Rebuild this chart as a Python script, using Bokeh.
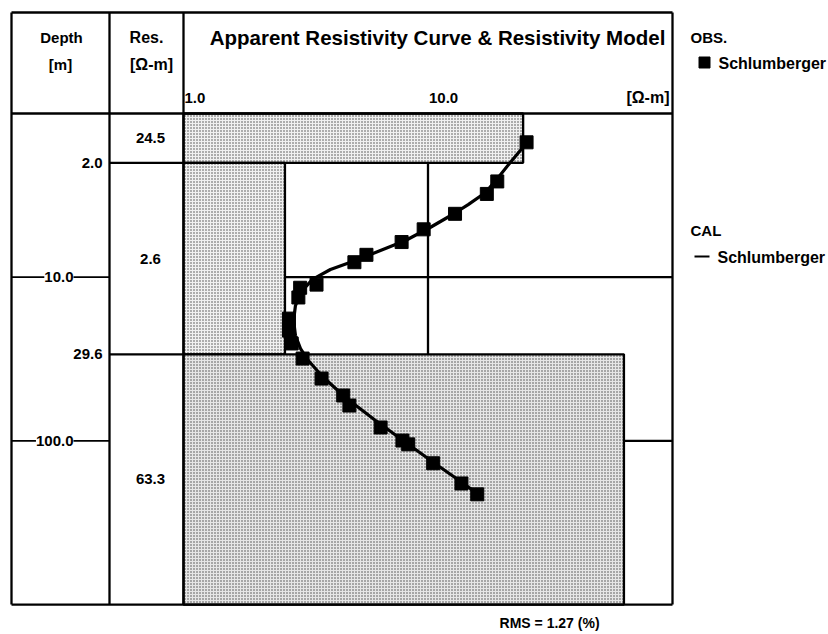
from bokeh.plotting import figure
from bokeh.models import Range1d, ColumnDataSource, LabelSet
from bokeh.core.properties import value
from bokeh.embed import file_html
from bokeh.resources import INLINE

# ---------------- data ----------------
x_lim = [1.0, 100.0]             # resistivity axis (ohm-m)
depth_lim = [1.0, 1000.0]        # depth axis (m)
x_ticks = [1.0, 10.0]
x_tick_labels = ["1.0", "10.0"]
depth_grid = [10.0, 100.0]
depth_grid_labels = ["10.0", "100.0"]

layer_res = [24.5, 2.6, 63.3]
layer_res_labels = ["24.5", "2.6", "63.3"]
layer_bounds = [2.0, 29.6]
layer_bound_labels = ["2.0", "29.6"]

obs_ab2 = [1.5, 2.6, 3.1, 4.1, 5.1, 6.1, 7.3, 8.1, 11.1, 11.6, 13.3, 17.9,
           21.2, 25.4, 31.4, 41.6, 52.8, 60.8, 82.8, 99.5, 105, 137, 182, 212]
obs_rho = [25.3, 19.2, 17.4, 12.9, 9.6, 7.8, 5.6, 5.0, 3.5, 3.0, 2.95, 2.7,
           2.7, 2.77, 3.07, 3.67, 4.5, 4.77, 6.4, 7.86, 8.3, 10.5, 13.7, 15.9]

cal_ab2 = [1.46, 1.99, 2.5, 3.04, 3.6, 4.14, 4.97, 5.97, 6.87, 7.91, 8.97,
           10.3, 12.2, 14.9, 18.4, 22.7, 27.3, 32.3, 40.4, 54.3, 75, 102, 135, 177, 210]
cal_rho = [25.8, 21.7, 19.2, 17.2, 14.6, 12.6, 10.2, 8.09, 6.39, 5.05, 3.99,
           3.37, 3.04, 2.87, 2.82, 2.87, 3.01, 3.24, 3.70, 4.60, 6.10, 8.09, 10.5, 13.6, 15.9]

rms_value = 1.27

# ---------------- geometry (page pixels) ----------------
W, H, M = 828, 634, 0
PX_X1, PX_Y1 = 183.0, 113.0     # page position of (1 ohm-m, 1 m)
DX, DY = 244.5, 163.7           # pixels per decade


def X(px):
    return 10 ** ((px - PX_X1) / DX)


def Y(py):
    return 10 ** ((py - PX_Y1) / DY)


FONT = value("Liberation Sans")

p = figure(width=W, height=H, x_axis_type="log", y_axis_type="log",
           x_range=Range1d(X(M), X(M + W)), y_range=Range1d(Y(M + H), Y(M)),
           x_axis_location=None, y_axis_location=None,
           toolbar_location=None, output_backend="svg", min_border=0)
p.grid.visible = False
p.outline_line_color = None
p.background_fill_color = "white"
p.border_fill_color = "white"

LW = 2.3

# grid lines (drawn under model boxes)
p.segment(x0=[10.0], y0=[depth_lim[0]], x1=[10.0], y1=[depth_lim[1]],
          line_color="black", line_width=LW)
p.segment(x0=[x_lim[0]] * len(depth_grid), y0=depth_grid,
          x1=[x_lim[1]] * len(depth_grid), y1=depth_grid,
          line_color="black", line_width=LW)
# grid lines through the depth column
p.segment(x0=[X(11)] * len(depth_grid), y0=depth_grid,
          x1=[X(109)] * len(depth_grid), y1=depth_grid,
          line_color="black", line_width=1.8)

# resistivity model boxes
tops = [depth_lim[0]] + layer_bounds
bottoms = layer_bounds + [depth_lim[1]]
layer_fill = ["#f0f0f0", "#f0f0f0", "#e6e6e6"]
p.quad(left=[x_lim[0]] * 3, right=layer_res, top=tops, bottom=bottoms,
       fill_color=layer_fill, hatch_pattern=".", hatch_color="#444444",
       hatch_scale=3.0, hatch_weight=1.0,
       line_color="black", line_width=LW)

# table frame
p.segment(x0=[X(11), X(11), X(11), X(11), X(109), x_lim[0], x_lim[1]],
          y0=[Y(12), depth_lim[0], depth_lim[1], Y(12), Y(12), Y(12), Y(12)],
          x1=[x_lim[1], x_lim[1], x_lim[1], X(11), X(109), x_lim[0], x_lim[1]],
          y1=[Y(12), depth_lim[0], depth_lim[1], depth_lim[1], depth_lim[1],
              depth_lim[1], depth_lim[1]],
          line_color="black", line_width=LW)
# layer boundaries in the Res. column
p.segment(x0=[X(109)] * 2, y0=layer_bounds, x1=[x_lim[0]] * 2, y1=layer_bounds,
          line_color="black", line_width=LW)

# calculated curve and observed points
p.line(cal_rho, cal_ab2, line_color="black", line_width=3.2)
p.scatter(obs_rho, obs_ab2, marker="square", size=13,
          fill_color="black", line_color="black")


def txt(xs, ys, texts, size, align="center", bold=True, **kw):
    p.text(x=xs, y=ys, text=texts, text_font=FONT,
           text_font_style="bold" if bold else "normal",
           text_font_size=size, text_align=align, text_baseline="middle",
           text_color="black", **kw)


# header texts
txt([X(61), X(60)], [Y(37), Y(64)], ["Depth", "[m]"], "15px")
txt([X(146), X(151)], [Y(37), Y(64)], ["Res.", "[Ω-m]"], "16px")
txt([X(437)], [Y(37)], ["Apparent Resistivity Curve & Resistivity Model"], "20.5px")

# x tick labels
txt(x_ticks, [Y(97)] * len(x_ticks), x_tick_labels, "15px", align="left", x_offset=1)
txt([x_lim[1]], [Y(97)], ["[Ω-m]"], "16px", align="right", x_offset=-3)

# depth labels
txt([X(102)] * len(layer_bounds), layer_bounds, layer_bound_labels, "15px", align="right")
grid_src = ColumnDataSource(dict(x=[X(73)] * len(depth_grid), y=depth_grid,
                                 t=depth_grid_labels))
p.add_layout(LabelSet(x="x", y="y", text="t", source=grid_src,
                      text_font=FONT, text_font_style="bold", text_font_size="15px",
                      text_color="black", text_align="right", text_baseline="middle",
                      background_fill_color="white"))

# resistivity labels at the geometric centre of each layer
mids = [(t * b) ** 0.5 for t, b in zip(tops, bottoms)]
txt([X(150)] * 3, mids, layer_res_labels, "15px")

# legend
txt([X(690)], [Y(37)], ["OBS."], "15px", align="left")
p.scatter([X(704)], [Y(62)], marker="square", size=11, fill_color="black",
          line_color="black")
txt([X(718)], [Y(63)], ["Schlumberger"], "16px", align="left")
txt([X(690)], [Y(230)], ["CAL"], "15px", align="left")
p.segment(x0=[X(694)], y0=[Y(256)], x1=[X(709)], y1=[Y(256)],
          line_color="black", line_width=2)
txt([X(717)], [Y(257)], ["Schlumberger"], "16px", align="left")

# RMS
txt([X(551)], [Y(622)], ["RMS =  %.2f (%%)" % rms_value], "14px")

open("out.html", "w").write(file_html(p, INLINE))
